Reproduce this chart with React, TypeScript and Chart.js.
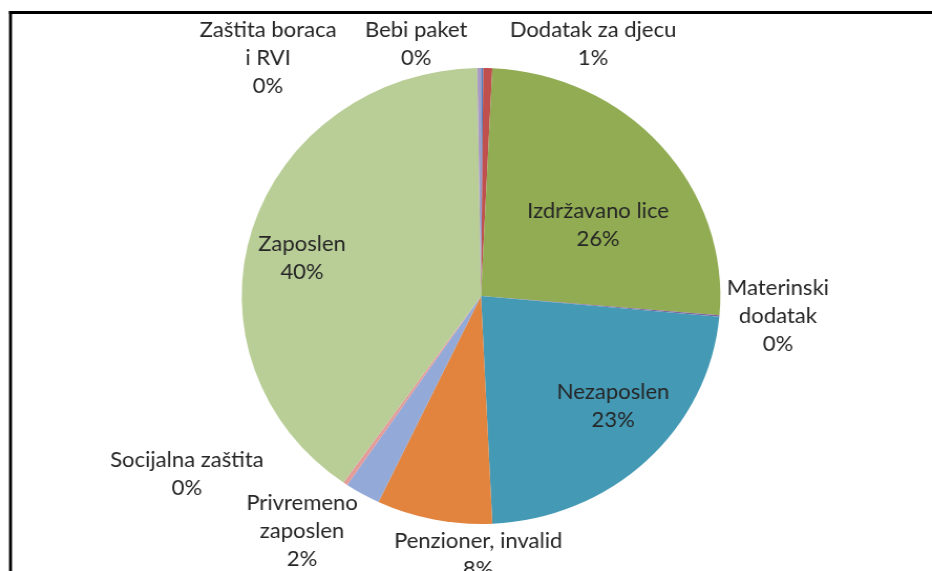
import React, { useEffect, useRef } from "react";
import { Chart, registerables } from "chart.js";

Chart.register(...registerables);

// ---- data ----
const categories = [
  "Bebi paket",
  "Dodatak za djecu",
  "Izdržavano lice",
  "Materinski dodatak",
  "Nezaposlen",
  "Penzioner, invalid",
  "Privremeno zaposlen",
  "Socijalna zaštita",
  "Zaposlen",
  "Zaštita boraca i RVI",
];
const values = [0.15, 0.6, 25.6, 0.1, 22.8, 7.8, 2.4, 0.3, 40.0, 0.25];
const labelLines = [
  ["Bebi paket"],
  ["Dodatak za djecu"],
  ["Izdržavano lice"],
  ["Materinski", "dodatak"],
  ["Nezaposlen"],
  ["Penzioner, invalid"],
  ["Privremeno", "zaposlen"],
  ["Socijalna zaštita"],
  ["Zaposlen"],
  ["Zaštita boraca", "i RVI"],
];

// ---- styles ----
const colors = [
  "#4F7FBF",
  "#C0504D",
  "#91AC53",
  "#8064A2",
  "#4499B5",
  "#E2843E",
  "#93A9D8",
  "#E39C9A",
  "#B9CE97",
  "#A99BC4",
];
// label block centres relative to pie centre, in units of the radius
const labelAnchors = [
  [-0.271, -1.105],
  [0.468, -1.105],
  [0.489, -0.309],
  [1.241, 0.088],
  [0.552, 0.482],
  [-0.012, 1.136],
  [-0.748, 1.031],
  [-1.229, 0.781],
  [-0.748, -0.167],
  [-0.89, -1.044],
];

const DISPLAY_W = 932;
const DISPLAY_H = 571;
const INTERNAL_W = 888;
const SX = DISPLAY_W / INTERNAL_W;
const FONT = "21px Lato, 'Open Sans', sans-serif";
const LINE_H = 28;

const framePlugin = {
  id: "frame",
  beforeDraw(chart: any) {
    const ctx = chart.ctx;
    ctx.save();
    ctx.fillStyle = "#ffffff";
    ctx.fillRect(0, 0, chart.width, chart.height);
    ctx.fillStyle = "#000000";
    ctx.fillRect(9 / SX, 11, 3 / SX, chart.height);
    ctx.fillRect(9 / SX, 11, chart.width, 3);
    ctx.restore();
  },
};

const labelPlugin = {
  id: "pieLabels",
  afterDatasetsDraw(chart: any) {
    const meta = chart.getDatasetMeta(0);
    const arc0 = meta.data[0];
    if (!arc0) return;
    const { x, y, outerRadius } = arc0.getProps(["x", "y", "outerRadius"], true);
    const total = values.reduce((a, b) => a + b, 0);
    const ctx = chart.ctx;
    ctx.save();
    ctx.font = FONT;
    ctx.fillStyle = "#262626";
    ctx.textAlign = "center";
    ctx.textBaseline = "middle";
    values.forEach((v, i) => {
      const lines = [...labelLines[i], Math.round((v / total) * 100) + "%"];
      const cx = x + labelAnchors[i][0] * outerRadius;
      const cy = y + labelAnchors[i][1] * outerRadius;
      lines.forEach((t, j) => {
        ctx.fillText(t, cx, cy + (j - (lines.length - 1) / 2) * LINE_H);
      });
    });
    ctx.restore();
  },
};

export default function App() {
  const ref = useRef<HTMLCanvasElement | null>(null);
  useEffect(() => {
    if (!ref.current) return;
    const chart = new Chart(ref.current, {
      type: "pie",
      data: {
        labels: categories,
        datasets: [
          {
            data: values,
            backgroundColor: colors,
            borderWidth: 0,
            radius: 228,
          },
        ],
      },
      options: {
        responsive: false,
        maintainAspectRatio: false,
        devicePixelRatio: 1,
        animation: false,
        layout: { padding: { left: 158.3, right: 129.7, top: 68, bottom: 47 } },
        plugins: {
          legend: { display: false },
          tooltip: { enabled: false },
        },
      },
      plugins: [framePlugin, labelPlugin],
    });
    return () => chart.destroy();
  }, []);
  return (
    <div
      style={{
        position: "fixed",
        left: 0,
        top: 0,
        width: DISPLAY_W,
        height: DISPLAY_H,
        overflow: "hidden",
        background: "#fff",
      }}
    >
      <canvas
        ref={ref}
        width={INTERNAL_W}
        height={DISPLAY_H}
        style={{ width: DISPLAY_W + "px", height: DISPLAY_H + "px", display: "block" }}
      />
    </div>
  );
}
